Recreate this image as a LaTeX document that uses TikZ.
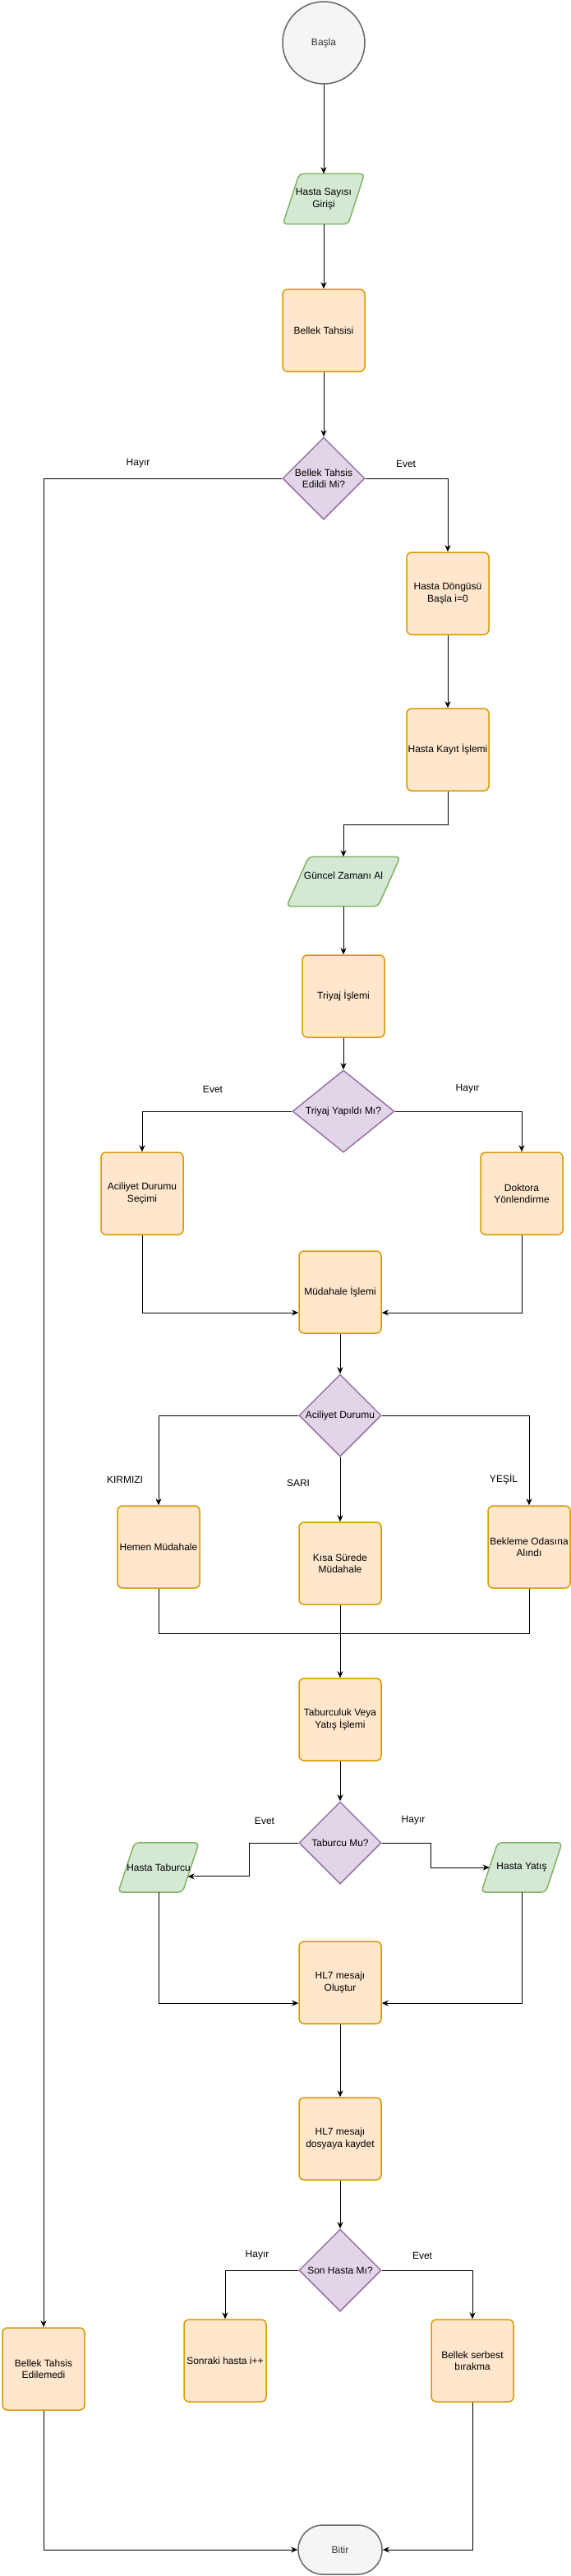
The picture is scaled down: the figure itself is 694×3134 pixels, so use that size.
\documentclass[tikz,border=0pt]{standalone}
\usepackage{fontspec}
\setmainfont{Liberation Sans}
\usetikzlibrary{shapes.geometric,arrows.meta,calc,backgrounds}
\definecolor{orfill}{HTML}{FFE6CC}
\definecolor{orstroke}{HTML}{D79B00}
\definecolor{grfill}{HTML}{D5E8D4}
\definecolor{grstroke}{HTML}{82B366}
\definecolor{pufill}{HTML}{E1D5E7}
\definecolor{pustroke}{HTML}{9673A6}
\definecolor{gyfill}{HTML}{F5F5F5}
\definecolor{gystroke}{HTML}{666666}
\definecolor{gytext}{HTML}{333333}
\newcommand{\myfs}{\fontsize{12pt}{14.4pt}\selectfont}
\tikzset{
  box/.style={draw=orstroke, fill=orfill, line width=1.5pt, rounded corners=6pt,
    minimum width=100pt, minimum height=100pt, inner sep=0pt, align=center, font=\myfs},
  dia/.style={diamond, draw=pustroke, fill=pufill, line width=1.5pt, aspect=1,
    minimum width=100pt, minimum height=100pt, inner sep=-6pt, align=center, font=\myfs},
  io/.style={minimum height=60pt, inner sep=0pt, align=center, font=\myfs},
  iosh/.style={draw=grstroke, fill=grfill, line width=1.5pt, rounded corners=5pt},
  term/.style={draw=gystroke, fill=gyfill, line width=1.5pt, text=gytext, font=\myfs, inner sep=0pt},
  arr/.style={-{Stealth[length=8pt,width=7pt,inset=2.5pt]}, line width=0.9pt},
  ln/.style={line width=0.9pt},
  lab/.style={font=\myfs, inner sep=0pt}
}
\begin{document}
\begin{tikzpicture}[x=1pt,y=-1pt]
\useasboundingbox (0,0) rectangle (694,3134);

% nodes
\node[term, circle, minimum size=100pt] (basla) at (394,52) {Başla};
\node[io, minimum width=99pt, minimum height=61pt] (hs) at (394,242) {Hasta Sayısı\\Girişi};
\node[box] (bt) at (394,402) {Bellek Tahsisi};
\node[dia] (d1) at (394,582) {Bellek Tahsis\\Edildi Mi?};
\node[box] (hd) at (545,722) {Hasta Döngüsü\\Başla i=0};
\node[box] (hk) at (545,912) {Hasta Kayıt İşlemi};
\node[io, minimum width=138pt] (gz) at (418,1072.5) {Güncel Zamanı Al\\~};
\node[box] (ti) at (418,1212) {Triyaj İşlemi};
\node[dia, minimum width=124pt] (d2) at (418,1352) {Triyaj Yapıldı Mı?};
\node[box] (ad) at (173,1452) {Aciliyet Durumu\\Seçimi};
\node[box] (dy) at (635,1452) {Doktora\\Yönlendirme};
\node[box] (mi) at (414,1572) {Müdahale İşlemi};
\node[dia] (d3) at (414,1722) {Aciliyet Durumu};
\node[box] (hm) at (193,1882) {Hemen Müdahale};
\node[box] (ks) at (414,1902) {Kısa Sürede\\Müdahale};
\node[box] (bo) at (644,1882) {Bekleme Odasına\\Alındı};
\node[box] (tv) at (414,2092) {Taburculuk Veya\\Yatış İşlemi};
\node[dia] (d4) at (414,2242) {Taburcu Mu?};
\node[io, minimum width=98pt] (ht) at (193,2272) {Hasta Taburcu};
\node[io, minimum width=98pt] (hy) at (635,2272) {Hasta Yatış};
\node[box] (ho) at (414,2412) {HL7 mesajı\\Oluştur};
\node[box] (hk2) at (414,2602) {HL7 mesajı\\dosyaya kaydet};
\node[dia] (d5) at (414,2762) {Son Hasta Mı?};
\node[box] (sh) at (274,2872) {Sonraki hasta i++};
\node[box] (bs) at (575,2872) {Bellek serbest\\bırakma};
\node[box] (be) at (53,2882) {Bellek Tahsis\\Edilemedi};
\node[term, minimum width=102pt, minimum height=60pt, rounded corners=29.9pt] (bitir) at (414,3102) {Bitir};

% parallelogram outlines behind the text
\begin{scope}[on background layer]
  \draw[iosh] ([xshift=20pt]hs.north west) -- (hs.north east) -- ([xshift=-20pt]hs.south east) -- (hs.south west) -- cycle;
  \draw[iosh] ([xshift=27pt]gz.north west) -- (gz.north east) -- ([xshift=-27pt]gz.south east) -- (gz.south west) -- cycle;
  \draw[iosh] ([xshift=20pt]ht.north west) -- (ht.north east) -- ([xshift=-20pt]ht.south east) -- (ht.south west) -- cycle;
  \draw[iosh] ([xshift=20pt]hy.north west) -- (hy.north east) -- ([xshift=-20pt]hy.south east) -- (hy.south west) -- cycle;
\end{scope}

% labels
\node[lab] (l1) at (168,564) {Hayır};
\node[lab] (l2) at (494,564) {Evet};
\node[lab] (l3) at (259,1325) {Evet};
\node[lab] (l4) at (569,1325) {Hayır};
\node[lab] (l5) at (152,1800) {KIRMIZI};
\node[lab] (l6) at (363,1804) {SARI};
\node[lab] (l7) at (613,1800) {YEŞİL};
\node[lab] (l8) at (322,2215) {Evet};
\node[lab] (l9) at (503,2215) {Hayır};
\node[lab] (l10) at (313,2744) {Hayır};
\node[lab] (l11) at (514,2744) {Evet};

% helper coordinates
\coordinate (htin) at ($(ht.north east)!0.68!([xshift=-20pt]ht.south east)$);
\coordinate (hyin) at ([xshift=10pt]hy.west);
\coordinate (m1) at (414,1987);

% connectors
\draw[arr] (basla) -- (hs.north);
\draw[arr] (hs.south) -- (bt.north);
\draw[arr] (bt) -- (d1);
\draw[arr] (d1.east) -| (hd.north);
\draw[arr] (d1.west) -| (be.north);
\draw[arr] (hd) -- (hk);
\draw[arr] (hk.south) -- ++(0,40.5) -| (gz.north);
\draw[arr] (gz.south) -- (ti.north);
\draw[arr] (ti) -- (d2);
\draw[arr] (d2.west) -| (ad.north);
\draw[arr] (d2.east) -| (dy.north);
\draw[arr] (ad.south) |- ([yshift=-25pt]mi.west);
\draw[arr] (dy.south) |- ([yshift=-25pt]mi.east);
\draw[arr] (mi) -- (d3);
\draw[arr] (d3.west) -| (hm.north);
\draw[arr] (d3) -- (ks);
\draw[arr] (d3.east) -| (bo.north);
\draw[ln] (hm.south) |- (m1);
\draw[ln] (bo.south) |- (m1);
\draw[arr] (ks) -- (tv);
\draw[arr] (tv) -- (d4);
\draw[arr] (d4.west) -- ++(-60,0) |- (htin);
\draw[arr] (d4.east) -- ++(60,0) |- (hyin);
\draw[arr] (ht.south) |- ([yshift=-25pt]ho.west);
\draw[arr] (hy.south) |- ([yshift=-25pt]ho.east);
\draw[arr] (ho) -- (hk2);
\draw[arr] (hk2) -- (d5);
\draw[arr] (d5.west) -| (sh.north);
\draw[arr] (d5.east) -| (bs.north);
\draw[arr] (be.south) |- (bitir.west);
\draw[arr] (bs.south) |- (bitir.east);
\end{tikzpicture}
\end{document}
